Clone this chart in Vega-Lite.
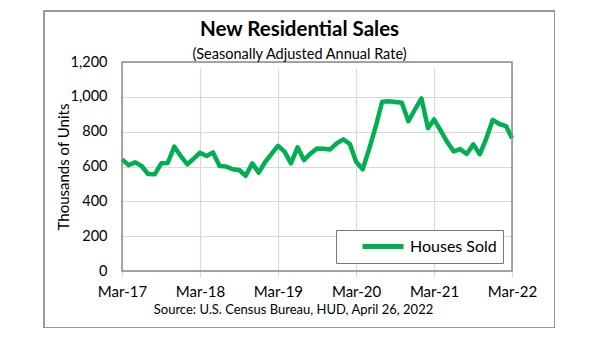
{
  "$schema": "https://vega.github.io/schema/vega-lite/v6.json",
  "width": 511,
  "height": 317,
  "autosize": {"type": "none"},
  "padding": {"left": 44, "top": 11, "right": 0, "bottom": 0},
  "background": "white",
  "config": {
    "font": "Lato",
    "view": {"stroke": "#7a7a7a", "strokeWidth": 1.5},
    "axis": {"labelFont": "Lato", "titleFont": "Lato", "labelColor": "#000000", "titleColor": "#000000"}
  },
  "title": {
    "text": "New Residential Sales",
    "subtitle": "(Seasonally Adjusted Annual Rate)",
    "font": "Lato",
    "subtitleFont": "Lato",
    "fontSize": 20.5,
    "fontWeight": "bold",
    "color": "#000000",
    "subtitleFontSize": 14.5,
    "subtitleColor": "#000000",
    "subtitlePadding": 7,
    "offset": -50,
    "frame": "group",
    "anchor": "middle"
  },
  "data": {
    "values": [
      {"date": "2017-03-01", "sales": 641},
      {"date": "2017-04-01", "sales": 608},
      {"date": "2017-05-01", "sales": 624},
      {"date": "2017-06-01", "sales": 603},
      {"date": "2017-07-01", "sales": 557},
      {"date": "2017-08-01", "sales": 555},
      {"date": "2017-09-01", "sales": 618},
      {"date": "2017-10-01", "sales": 620},
      {"date": "2017-11-01", "sales": 714},
      {"date": "2017-12-01", "sales": 660},
      {"date": "2018-01-01", "sales": 612},
      {"date": "2018-02-01", "sales": 647},
      {"date": "2018-03-01", "sales": 679},
      {"date": "2018-04-01", "sales": 660},
      {"date": "2018-05-01", "sales": 681},
      {"date": "2018-06-01", "sales": 603},
      {"date": "2018-07-01", "sales": 600},
      {"date": "2018-08-01", "sales": 584},
      {"date": "2018-09-01", "sales": 580},
      {"date": "2018-10-01", "sales": 547},
      {"date": "2018-11-01", "sales": 618},
      {"date": "2018-12-01", "sales": 565},
      {"date": "2019-01-01", "sales": 627},
      {"date": "2019-02-01", "sales": 675},
      {"date": "2019-03-01", "sales": 719},
      {"date": "2019-04-01", "sales": 685},
      {"date": "2019-05-01", "sales": 618},
      {"date": "2019-06-01", "sales": 710},
      {"date": "2019-07-01", "sales": 637},
      {"date": "2019-08-01", "sales": 675},
      {"date": "2019-09-01", "sales": 704},
      {"date": "2019-10-01", "sales": 702},
      {"date": "2019-11-01", "sales": 698},
      {"date": "2019-12-01", "sales": 733},
      {"date": "2020-01-01", "sales": 756},
      {"date": "2020-02-01", "sales": 729},
      {"date": "2020-03-01", "sales": 627},
      {"date": "2020-04-01", "sales": 584},
      {"date": "2020-05-01", "sales": 700},
      {"date": "2020-06-01", "sales": 830},
      {"date": "2020-07-01", "sales": 972},
      {"date": "2020-08-01", "sales": 975},
      {"date": "2020-09-01", "sales": 970},
      {"date": "2020-10-01", "sales": 966},
      {"date": "2020-11-01", "sales": 860},
      {"date": "2020-12-01", "sales": 926},
      {"date": "2021-01-01", "sales": 991},
      {"date": "2021-02-01", "sales": 820},
      {"date": "2021-03-01", "sales": 870},
      {"date": "2021-04-01", "sales": 806},
      {"date": "2021-05-01", "sales": 742},
      {"date": "2021-06-01", "sales": 687},
      {"date": "2021-07-01", "sales": 700},
      {"date": "2021-08-01", "sales": 672},
      {"date": "2021-09-01", "sales": 727},
      {"date": "2021-10-01", "sales": 670},
      {"date": "2021-11-01", "sales": 762},
      {"date": "2021-12-01", "sales": 868},
      {"date": "2022-01-01", "sales": 844},
      {"date": "2022-02-01", "sales": 832},
      {"date": "2022-03-01", "sales": 762}
    ]
  },
  "layer": [
    {
      "mark": {"type": "line", "strokeWidth": 4.5, "strokeJoin": "round"},
      "encoding": {
        "x": {
          "field": "date",
          "type": "temporal",
          "scale": {
            "type": "utc",
            "nice": false,
            "domain": [
              {"year": 2017, "month": 3, "date": 1, "utc": true},
              {"year": 2022, "month": 3, "date": 1, "utc": true}
            ],
            "range": [78, 468]
          },
          "axis": {
            "values": [
              {"year": 2017, "month": 3, "date": 1, "utc": true},
              {"year": 2018, "month": 3, "date": 1, "utc": true},
              {"year": 2019, "month": 3, "date": 1, "utc": true},
              {"year": 2020, "month": 3, "date": 1, "utc": true},
              {"year": 2021, "month": 3, "date": 1, "utc": true},
              {"year": 2022, "month": 3, "date": 1, "utc": true}
            ],
            "format": "%b-%y",
            "offset": -57,
            "domain": false,
            "ticks": false,
            "grid": true,
            "gridColor": "#d9d9d9",
            "gridWidth": 1.2,
            "labelFontSize": 15,
            "labelPadding": 13,
            "labelFlush": false,
            "labelOverlap": false,
            "title": "Source:  U.S. Census Bureau, HUD, April 26, 2022",
            "titleFontSize": 13,
            "titleFontWeight": "normal",
            "titlePadding": 4,
            "titleX": 249
          }
        },
        "y": {
          "field": "sales",
          "type": "quantitative",
          "scale": {"domain": [0, 1200], "nice": false, "range": [260, 51]},
          "axis": {
            "values": [0, 200, 400, 600, 800, 1000, 1200],
            "format": ",d",
            "offset": -78,
            "domain": false,
            "ticks": false,
            "grid": true,
            "gridColor": "#d9d9d9",
            "gridWidth": 1.2,
            "labelFontSize": 14.5,
            "labelPadding": 15,
            "title": "Thousands of Units",
            "titleFontSize": 15,
            "titleFontWeight": "normal",
            "titlePadding": -1
          }
        },
        "color": {
          "datum": "Houses Sold",
          "scale": {"range": ["#00b050"]},
          "legend": {
            "orient": "none",
            "legendX": 292,
            "legendY": 219,
            "title": null,
            "strokeColor": "#7a7a7a",
            "fillColor": "white",
            "padding": 6,
            "symbolType": "M-2.56,0H2.56",
            "symbolStrokeWidth": 5,
            "symbolSize": 256,
            "symbolOffset": 30.5,
            "labelFontSize": 16,
            "labelFont": "Lato",
            "labelColor": "#000000",
            "labelOffset": 16.5
          }
        }
      }
    },
    {
      "data": {"values": [{}]},
      "mark": {"type": "rect", "filled": false, "stroke": "#8a8a8a", "strokeWidth": 1.5},
      "encoding": {
        "x": {"datum": {"year": 2017, "month": 3, "date": 1, "utc": true}, "type": "temporal"},
        "x2": {"datum": {"year": 2022, "month": 3, "date": 1, "utc": true}},
        "y": {"datum": 0, "type": "quantitative"},
        "y2": {"datum": 1200}
      }
    }
  ]
}
